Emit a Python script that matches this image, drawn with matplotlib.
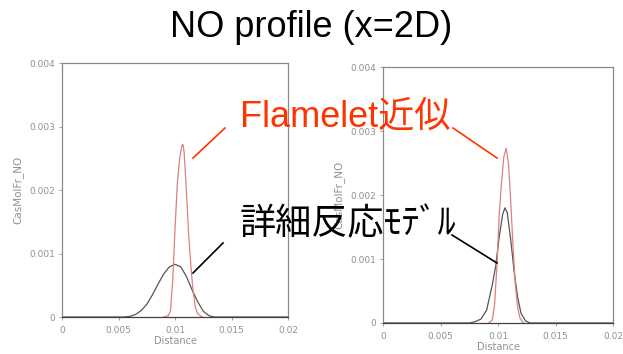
import matplotlib.pyplot as plt

# NO mole fraction profiles across the jet at x=2D
# left panel
left_detail_x = [0.0, 0.0055, 0.006, 0.0065, 0.007, 0.0075, 0.008, 0.0085, 0.009, 0.0095,
                 0.0100, 0.0105, 0.011, 0.0115, 0.012, 0.0125, 0.013, 0.0135, 0.02]
left_detail_y = [0.0, 0.0, 0.00001, 0.00004, 0.00010, 0.00020, 0.00035, 0.00052, 0.00068, 0.00079,
                 0.00083, 0.00079, 0.00064, 0.00043, 0.00024, 0.00009, 0.00002, 0.0, 0.0]
left_flamelet_x = [0.0090, 0.0094, 0.0096, 0.0098, 0.0100, 0.0102, 0.0104, 0.0106, 0.0107,
                   0.0108, 0.0110, 0.0112, 0.0114, 0.0116, 0.0118, 0.0120, 0.0124]
left_flamelet_y = [0.0, 0.00002, 0.0001, 0.0006, 0.0014, 0.0021, 0.0025, 0.0027, 0.00272,
                   0.0026, 0.0020, 0.0013, 0.0008, 0.0004, 0.00015, 0.00005, 0.0]

# right panel
right_detail_x = [0.0, 0.0075, 0.008, 0.0085, 0.009, 0.0095, 0.0098, 0.0101, 0.0104, 0.0106,
                  0.0108, 0.0111, 0.0114, 0.0117, 0.0120, 0.0124, 0.0128, 0.02]
right_detail_y = [0.0, 0.0, 0.00002, 0.00006, 0.00020, 0.0006, 0.0009, 0.00135, 0.00170, 0.0018,
                  0.00172, 0.0013, 0.0008, 0.0004, 0.00015, 0.00003, 0.0, 0.0]
right_flamelet_x = [0.0092, 0.0095, 0.0097, 0.0099, 0.0101, 0.0103, 0.0105, 0.0107, 0.0109,
                    0.0111, 0.0113, 0.0115, 0.0117, 0.0119, 0.0122]
right_flamelet_y = [0.0, 0.00005, 0.0003, 0.0009, 0.0017, 0.0022, 0.0026, 0.00273, 0.0025,
                    0.0019, 0.0012, 0.0006, 0.00025, 0.00008, 0.0]

x_ticks = [0, 0.005, 0.01, 0.015, 0.02]
x_ticklabels = ['0', '0.005', '0.01', '0.015', '0.02']
y_ticks = [0, 0.001, 0.002, 0.003, 0.004]
y_ticklabels = ['0', '0.001', '0.002', '0.003', '0.004']

jp = ['Liberation Sans', 'Noto Sans CJK JP']
flame_color = '#ff3300'
grey = '#909090'

fig = plt.figure(figsize=(6.23, 3.54), dpi=100)
fig.patch.set_facecolor('white')

ax_left = fig.add_axes([0.0995, 0.1045, 0.363, 0.7175])
ax_right = fig.add_axes([0.615, 0.0876, 0.369, 0.723])

panels = [
    (ax_left, left_detail_x, left_detail_y, left_flamelet_x, left_flamelet_y, 4),
    (ax_right, right_detail_x, right_detail_y, right_flamelet_x, right_flamelet_y, 4),
]

for ax, dx, dy, fx, fy, ypad in panels:
    ax.plot(dx, dy, color='#555555', lw=0.9)
    ax.plot(fx, fy, color='#dc8080', lw=0.9)
    ax.set_xlim(0, 0.02)
    ax.set_ylim(0, 0.004)
    ax.set_xticks(x_ticks)
    ax.set_xticklabels(x_ticklabels)
    ax.set_yticks(y_ticks)
    ax.set_yticklabels(y_ticklabels)
    ax.tick_params(labelsize=6.5, colors=grey, length=2.5, width=0.6, pad=2.5)
    ax.tick_params(axis='x', pad=4)
    for s in ax.spines.values():
        s.set_color('#8a8a8a')
        s.set_linewidth(0.9)
    ax.spines['bottom'].set_color('#404040')
    ax.set_xlabel('Distance', fontsize=7, color=grey, labelpad=1)
    ax.set_ylabel('CasMolFr_NO', fontsize=7.5, color=grey, labelpad=ypad)

fig.text(0.5, 0.895, 'NO profile (x=2D)', ha='center', va='baseline',
         fontsize=26, family=jp, color='black')

# callout labels with leader lines
fig.text(0.385, 0.641, 'Flamelet近似', ha='left', va='baseline',
         fontsize=26, family=jp, color=flame_color)
fig.text(0.385, 0.338, '詳細反応ﾓﾃﾞﾙ', ha='left', va='baseline',
         fontsize=26, family=jp, color='black')

fig.add_artist(plt.Line2D([225 / 623, 193 / 623], [1 - 128 / 354, 1 - 158 / 354],
                          color=flame_color, lw=1.2))
fig.add_artist(plt.Line2D([453 / 623, 497 / 623], [1 - 128 / 354, 1 - 158 / 354],
                          color=flame_color, lw=1.2))
fig.add_artist(plt.Line2D([223 / 623, 193 / 623], [1 - 243 / 354, 1 - 273 / 354],
                          color='black', lw=1.2))
fig.add_artist(plt.Line2D([452 / 623, 497 / 623], [1 - 235 / 354, 1 - 263 / 354],
                          color='black', lw=1.2))

fig.savefig('out.png', dpi=100, facecolor='white')
